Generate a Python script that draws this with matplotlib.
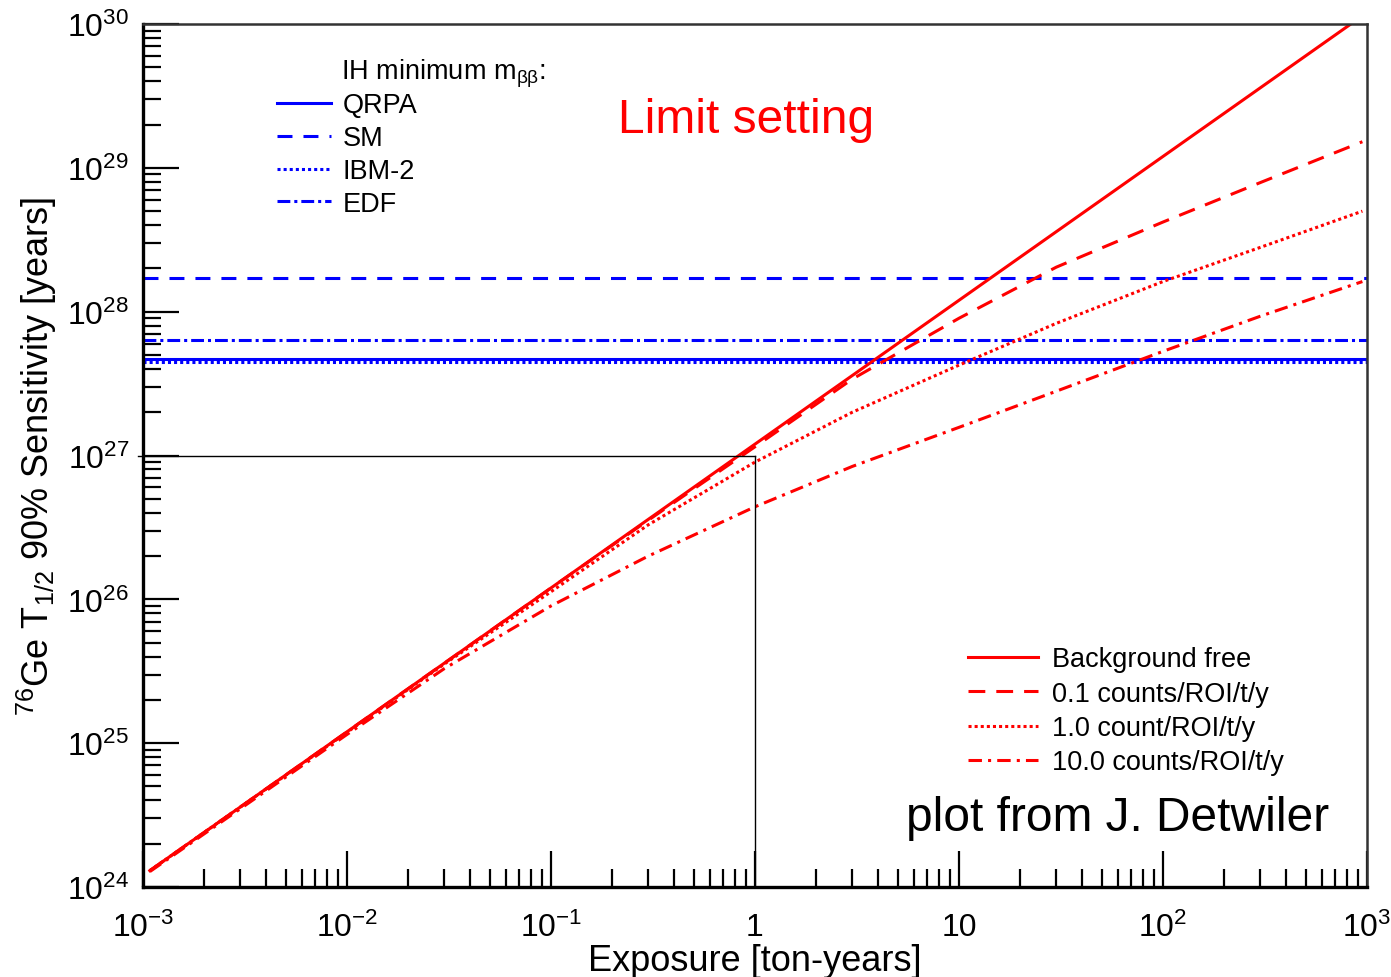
import matplotlib
matplotlib.use("Agg")
import matplotlib.pyplot as plt
from matplotlib.ticker import FixedLocator, NullFormatter

# exposure grid [ton-years] and sensitivities
exposure = [0.00108, 0.003, 0.01, 0.03, 0.1, 0.3, 1, 3, 10, 30, 100, 300, 950]
bkg_free = [1.3e24, 3.6e24, 1.2e25, 3.6e25, 1.2e26, 3.6e26, 1.2e27, 3.6e27,
            1.2e28, 3.6e28, 1.2e29, 3.6e29, 1.14e30]
bkg_0p1 = [1.3e24, 3.6e24, 1.2e25, 3.6e25, 1.2e26, 3.55e26, 1.15e27, 3.4e27,
           9.0e27, 2.04e28, 4.2e28, 7.9e28, 1.52e29]
bkg_1 = [1.3e24, 3.6e24, 1.19e25, 3.55e25, 1.13e26, 3.3e26, 9.0e26, 2.0e27,
         4.25e27, 8.3e27, 1.62e28, 2.8e28, 5.0e28]
bkg_10 = [1.28e24, 3.5e24, 1.15e25, 3.3e25, 9.0e25, 2.0e26, 4.4e26, 8.4e26,
          1.57e27, 2.8e27, 5.3e27, 9.3e27, 1.62e28]
red_labels = ["Background free", "0.1 counts/ROI/t/y", "1.0 count/ROI/t/y",
              "10.0 counts/ROI/t/y"]

# IH minimum m_bb half-life levels
nme_names = ["QRPA", "SM", "IBM-2", "EDF"]
nme_levels = [4.7e27, 1.71e28, 4.46e27, 6.4e27]

x_ticks = [1e-3, 1e-2, 1e-1, 1, 10, 1e2, 1e3]
x_ticklabels = [r"$10^{-3}$", r"$10^{-2}$", r"$10^{-1}$", "1", "10",
                r"$10^{2}$", r"$10^{3}$"]
y_ticks = [1e24, 1e25, 1e26, 1e27, 1e28, 1e29, 1e30]
y_ticklabels = [r"$10^{%d}$" % p for p in range(24, 31)]

plt.rcParams["font.family"] = ["Liberation Sans", "DejaVu Sans"]
plt.rcParams["mathtext.fontset"] = "custom"
plt.rcParams["mathtext.rm"] = "Liberation Sans"
plt.rcParams["mathtext.it"] = "Liberation Sans:italic"
plt.rcParams["mathtext.bf"] = "Liberation Sans:bold"

styles = ["-", (0, (5.5, 3.6)), (0, (1, 1)), (0, (4.4, 2, 1, 2))]
blue_styles = ["-", (0, (4.9, 3.6)), (0, (1, 1)), (0, (4.2, 1.3, 1, 1.3))]


def main():
    fig = plt.figure(figsize=(13.91, 9.78), dpi=100)
    ax = fig.add_axes([0.1028, 0.092, 0.8799, 0.8824])
    ax.set_xscale("log")
    ax.set_yscale("log")
    ax.set_xlim(1e-3, 1e3)
    ax.set_ylim(1e24, 1e30)

    blue_handles = []
    for lvl, ls, name in zip(nme_levels, blue_styles, nme_names):
        h = ax.axhline(lvl, color="#0000ff", lw=2.2, ls=ls, label=name)
        blue_handles.append(h)

    red_handles = []
    for ys, ls, name in zip([bkg_free, bkg_0p1, bkg_1, bkg_10], styles,
                            red_labels):
        h, = ax.plot(exposure, ys, color="#ff0000", lw=2.2, ls=ls, label=name)
        red_handles.append(h)

    # thin guide lines at 1 ton-year / 1e27 years
    ax.plot([9.45e-4, 1], [1e27, 1e27], color="black", lw=1, clip_on=False)
    ax.plot([1, 1], [1e24, 1e27], color="black", lw=1)

    ax.xaxis.set_major_locator(FixedLocator(x_ticks))
    ax.set_xticklabels(x_ticklabels)
    ax.yaxis.set_major_locator(FixedLocator(y_ticks))
    ax.set_yticklabels(y_ticklabels)
    minors = [m * 10.0 ** p for p in range(-3, 30) for m in range(2, 10)]
    ax.xaxis.set_minor_locator(FixedLocator([v for v in minors if 1e-3 < v < 1e3]))
    ax.yaxis.set_minor_locator(FixedLocator([v for v in minors if 1e24 < v < 1e30]))
    ax.xaxis.set_minor_formatter(NullFormatter())
    ax.yaxis.set_minor_formatter(NullFormatter())
    ax.tick_params(which="both", direction="in", top=False, right=False,
                   width=1.6, colors="black", labelsize=23)
    ax.tick_params(which="major", length=26)
    ax.tick_params(which="minor", length=13)
    ax.tick_params(axis="x", which="major", pad=18)
    ax.tick_params(axis="y", which="major", pad=10)
    for side in ["left", "bottom"]:
        ax.spines[side].set_linewidth(2.4)
    for side in ["top", "right"]:
        ax.spines[side].set_linewidth(1.8)
        ax.spines[side].set_color("#333333")

    ax.set_xlabel("Exposure [ton-years]", fontsize=26, labelpad=0)
    ax.set_ylabel(r"$^{76}$Ge T$_{1/2}$ 90% Sensitivity [years]",
                  fontsize=26, labelpad=6)

    leg1 = ax.legend(handles=blue_handles, loc="upper left",
                     bbox_to_anchor=(0.1095, 0.921), frameon=False,
                     fontsize=19.5, handlelength=2.0, handletextpad=0.42,
                     labelspacing=0.255, borderpad=0, borderaxespad=0)
    ax.add_artist(leg1)
    ax.legend(handles=red_handles, loc="upper left",
              bbox_to_anchor=(0.674, 0.279), frameon=False,
              fontsize=19.5, handlelength=2.6, handletextpad=0.52,
              labelspacing=0.31, borderpad=0, borderaxespad=0)

    ax.text(0.1618, 0.9435, r"IH minimum m$_{\mathrm{ββ}}$:", fontsize=19.5,
            transform=ax.transAxes, va="center", ha="left")
    ax.text(0.388, 0.889, "Limit setting", color="#ff0000", fontsize=34.5,
            transform=ax.transAxes, va="center", ha="left")
    ax.text(0.6234, 0.0811, "plot from J. Detwiler", color="black",
            fontsize=34.5, transform=ax.transAxes, va="center", ha="left")

    fig.savefig("out.png", dpi=100)


if __name__ == "__main__":
    main()
